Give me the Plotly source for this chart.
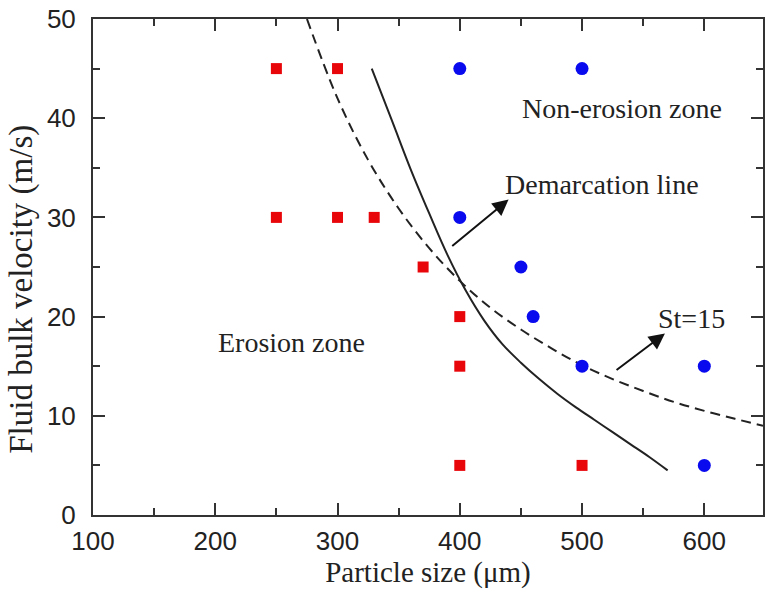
import plotly.graph_objects as go

# Data
erosion_x = [250, 300, 250, 300, 330, 370, 400, 400, 400, 500]
erosion_y = [45, 45, 30, 30, 30, 25, 20, 15, 5, 5]
nonerosion_x = [400, 500, 400, 450, 460, 500, 600, 600]
nonerosion_y = [45, 45, 30, 25, 20, 15, 15, 5]

demarc_x = [328, 345, 360, 375, 390, 405, 420, 435, 450, 465, 480, 495, 510, 525, 540, 555, 570]
demarc_y = [45.0, 39.6, 34.8, 30.4, 26.2, 22.6, 19.6, 17.2, 15.35, 13.7, 12.2, 10.85, 9.6, 8.35, 7.1, 5.85, 4.5]

st15_x = [275, 300, 325, 350, 375, 400, 425, 450, 475, 500, 525, 550, 575, 600, 625, 648]
st15_y = [50, 42, 35.8, 30.9, 26.9, 23.6, 20.9, 18.7, 16.8, 15.1, 13.7, 12.5, 11.4, 10.5, 9.7, 9.0]

xticks = [100, 200, 300, 400, 500, 600]
yticks = [0, 10, 20, 30, 40, 50]

serif = "Liberation Serif, Times New Roman, serif"
sans = "Liberation Sans, Arial, sans-serif"
axcol = "#333333"

fig = go.Figure()
fig.add_trace(go.Scatter(x=st15_x, y=st15_y, mode="lines", line_shape="spline",
                         line=dict(color="#222222", width=2, dash="10px,6px"),
                         showlegend=False, hoverinfo="skip"))
fig.add_trace(go.Scatter(x=demarc_x, y=demarc_y, mode="lines", line_shape="spline",
                         line=dict(color="#222222", width=2, smoothing=1.0),
                         showlegend=False, hoverinfo="skip"))
fig.add_trace(go.Scatter(x=erosion_x, y=erosion_y, mode="markers",
                         marker=dict(symbol="square", size=11, color="#e8060b"),
                         showlegend=False))
fig.add_trace(go.Scatter(x=nonerosion_x, y=nonerosion_y, mode="markers",
                         marker=dict(symbol="circle", size=13, color="#0a0aef"),
                         showlegend=False))

axis_common = dict(showline=True, linecolor=axcol, linewidth=2, mirror="ticks",
                   ticks="inside", ticklen=12, tickwidth=2, tickcolor=axcol,
                   showgrid=False, zeroline=False,
                   tickfont=dict(family=sans, size=26, color="#222222"))

fig.update_xaxes(range=[100, 648], tickvals=xticks, ticklabelstandoff=2,
                 minor=dict(ticks="inside", dtick=50, ticklen=7, tickwidth=2, tickcolor=axcol, showgrid=False),
                 title=dict(text="Particle size (μm)", font=dict(family=serif, size=29, color="#222222"), standoff=6),
                 **axis_common)
fig.update_yaxes(range=[0, 50], tickvals=yticks, ticklabelstandoff=10,
                 minor=dict(ticks="inside", dtick=5, ticklen=7, tickwidth=2, tickcolor=axcol, showgrid=False),
                 **axis_common)

ann_font = dict(family=serif, size=28, color="#222222")
annotations = [
    dict(x=-0.106, y=0.456, xref="paper", yref="paper", text="Fluid bulk velocity (m/s)",
         textangle=-90, showarrow=False, xanchor="center", yanchor="middle",
         font=dict(family=serif, size=33, color="#222222")),
    dict(x=532.8, y=41.0, text="Non-erosion zone", showarrow=False, font=ann_font),
    dict(x=516.5, y=33.3, text="Demarcation line", showarrow=False, font=ann_font),
    dict(x=589.8, y=19.8, text="St=15", showarrow=False, font=ann_font),
    dict(x=262.2, y=17.4, text="Erosion zone", showarrow=False, font=ann_font),
    dict(x=439.9, y=31.8, ax=392.6, ay=27.0, axref="x", ayref="y", text="",
         showarrow=True, arrowhead=2, arrowsize=1.6, arrowwidth=2, arrowcolor="#111111"),
    dict(x=567.8, y=18.3, ax=527, ay=14.5, axref="x", ayref="y", text="",
         showarrow=True, arrowhead=2, arrowsize=1.6, arrowwidth=2, arrowcolor="#111111"),
]

fig.update_layout(width=769, height=596, margin=dict(l=93, r=4, t=15, b=81),
                  plot_bgcolor="white", paper_bgcolor="white",
                  annotations=annotations, showlegend=False)

fig.write_html("out.html")
